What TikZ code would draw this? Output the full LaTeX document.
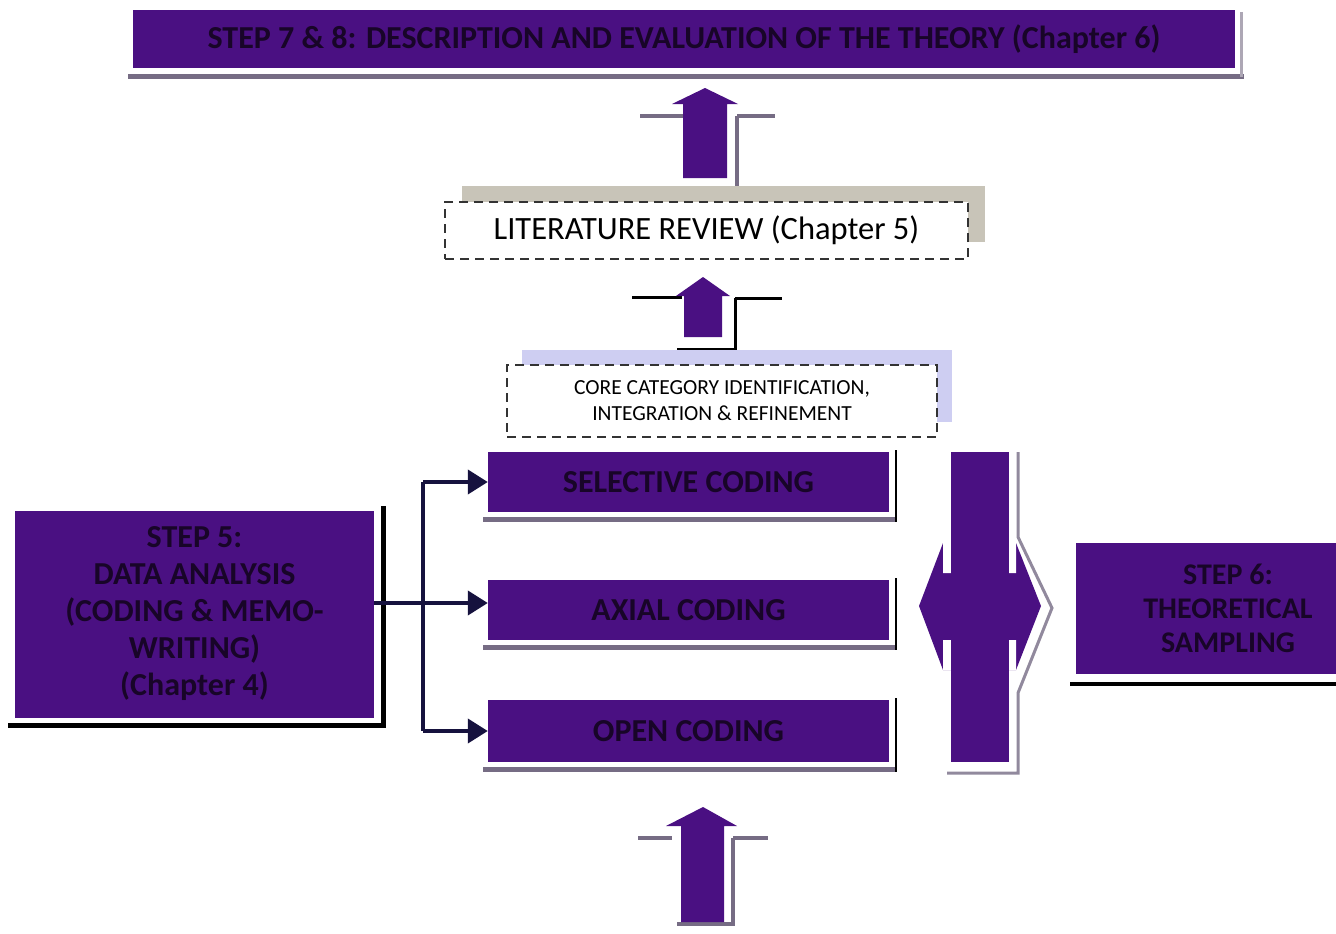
\documentclass[tikz,border=0pt]{standalone}
\usepackage{fontspec}
\setmainfont{Carlito}
\usetikzlibrary{arrows.meta,calc}
\definecolor{violetfill}{RGB}{74,16,130}
\definecolor{inkdark}{RGB}{24,5,40}
\definecolor{navyline}{RGB}{22,18,62}
\definecolor{shadowgray}{RGB}{118,108,132}
\definecolor{tanshadow}{RGB}{200,196,184}
\definecolor{lavshadow}{RGB}{206,206,242}
\tikzset{
  purplebox/.style={fill=violetfill, text=inkdark, align=center, inner sep=0pt,
    font=\bfseries\fontsize{32}{37}\selectfont},
  dashbox/.style={draw=black!80, dashed, dash pattern=on 9pt off 6pt, line width=1.4pt,
    fill=white, align=center, inner sep=0pt},
  conn/.style={draw=navyline, line width=4pt},
  connarrow/.style={conn, -{Triangle[length=20pt,width=24pt]}},
  graybar/.style={draw=shadowgray, line width=4pt},
  darkbar/.style={draw=black, line width=4pt}
}
\begin{document}
\begin{tikzpicture}[x=1pt,y=-1pt]
\useasboundingbox (0,0) rectangle (1336,934);
\clip (0,0) rectangle (1336,934);

% ---- top banner
\draw[graybar, line width=5pt] (128,77) -- (1244,77);
\draw[draw=shadowgray!60, line width=3pt] (1241,12) -- (1241,77);
\node[purplebox, minimum width=1102pt, minimum height=58pt,
  font=\bfseries\fontsize{32}{38}\selectfont] (theory) at (684,39)
  {STEP 7 \& 8: DESCRIPTION AND EVALUATION OF THE THEORY (Chapter 6)};

% ---- upper block arrow
\draw[graybar] (640,116) -- (683,116);
\draw[graybar] (737,116) -- (775,116) (737,116) -- (737,188);
\draw[draw=violetfill!70!black, line width=4pt] (680,188) -- (739,188);
\fill[violetfill] (683,178) -- (683,104) -- (672,104) -- (705,88) -- (738,104)
  -- (727,104) -- (727,178) -- cycle;

% ---- literature review
\fill[tanshadow] (462,186) rectangle (985,242);
\node[dashbox, minimum width=523pt, minimum height=57pt,
  font=\fontsize{32.5}{38}\selectfont] (lit) at (706.5,230.5) {LITERATURE REVIEW (Chapter 5)};

% ---- middle block arrow
\draw[darkbar, line width=3pt] (632,297) -- (682,297);
\draw[darkbar, line width=3pt] (735,298) -- (782,298) (735,298) -- (735,350);
\draw[darkbar, line width=3pt] (677,349) -- (736,349);
\fill[violetfill] (684,337) -- (684,296) -- (676,296) -- (703,277) -- (730,296)
  -- (722,296) -- (722,337) -- cycle;

% ---- core category
\fill[lavshadow] (522,350) rectangle (952,422);
\node[dashbox, minimum width=430pt, minimum height=72pt,
  font=\fontsize{21.5}{26}\selectfont] (core) at (722,401)
  {CORE CATEGORY IDENTIFICATION,\\INTEGRATION \& REFINEMENT};

% ---- coding boxes
\foreach \yt/\yb in {452/512, 580/640, 700/762}{
  \draw[graybar, line width=5pt] (483,\yb+7) -- (897,\yb+7);
  \draw[draw=black, line width=2pt] (896,\yt-2) -- (896,\yb+10);
}
\node[purplebox, minimum width=401pt, minimum height=60pt] (sel) at (688.5,482) {SELECTIVE CODING};
\node[purplebox, minimum width=401pt, minimum height=60pt] (axial) at (688.5,610) {AXIAL CODING};
\node[purplebox, minimum width=401pt, minimum height=62pt] (open) at (688.5,731) {OPEN CODING};

% ---- step 5
\draw[darkbar, line width=5pt] (8,725) -- (383,725) -- (383,506);
\node[purplebox, minimum width=359pt, minimum height=207pt] (step5) at (194.5,614)
  {STEP 5:\\DATA ANALYSIS\\(CODING \& MEMO-\\WRITING)\\(Chapter 4)};

% ---- connectors from step 5 to the coding boxes
\coordinate (fork) at (423,603);
\draw[conn] (fork |- sel.west) -- (fork |- open.west);
\draw[connarrow] (step5.east |- fork) -- (axial.west |- fork);
\draw[connarrow] (fork |- sel.west) -- (sel.west);
\draw[connarrow] (fork |- open.west) -- (open.west);

% ---- two-way arrow between coding and sampling
\draw[draw=shadowgray!80, line width=3pt] (1018,452) -- (1018,537) -- (1052,608)
  -- (1018,693) -- (1018,773) -- (947,773);
\fill[violetfill] (919,606) -- (943,543) -- (1016,543) -- (1041,606) -- (1016,670)
  -- (943,670) -- cycle;
\fill[white] (943,543) rectangle (951,573) (943,640) rectangle (951,670);
\fill[white] (1009,543) rectangle (1016,573) (1009,640) rectangle (1016,670);
\fill[violetfill] (951,452) rectangle (1009,762);

% ---- step 6
\draw[darkbar] (1070,684) -- (1336,684);
\node[purplebox, minimum width=304pt, minimum height=131pt,
  font=\bfseries\fontsize{30}{34}\selectfont] (step6) at (1228,608.5)
  {STEP 6:\\THEORETICAL\\SAMPLING};

% ---- lower block arrow
\draw[graybar] (638,838) -- (672,838);
\draw[graybar] (733,838) -- (768,838) (733,838) -- (733,924) -- (677,924);
\fill[violetfill] (681,922) -- (681,826) -- (666,826) -- (703,807) -- (737,826)
  -- (724,826) -- (724,922) -- cycle;
\end{tikzpicture}
\end{document}
